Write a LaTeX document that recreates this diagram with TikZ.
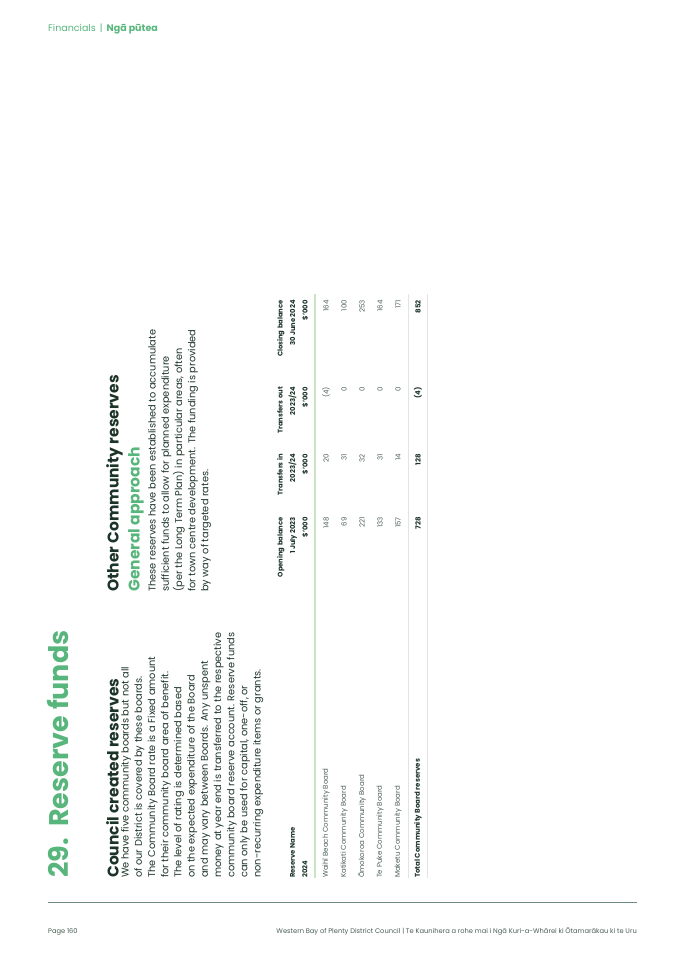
\documentclass[tikz,border=0pt]{standalone}
\usepackage{fontspec}
\setmainfont{Poppins}
\definecolor{tgreen}{RGB}{88,182,124}
\definecolor{dark}{RGB}{28,52,40}
\definecolor{lgreen}{RGB}{200,230,195}
\definecolor{lgray}{RGB}{225,228,226}
\definecolor{fgray}{RGB}{110,140,125}
\tikzset{
 rt/.style={rotate=90,inner sep=0pt,text=dark},
 body/.style={rt,align=left,font=\fontsize{9.8}{13.2}\selectfont},
 hdr/.style={rt,align=right,font=\fontsize{6.8}{12.5}\selectfont\bfseries},
 val/.style={rt,anchor=east,font=\fontsize{7}{8}\selectfont,text=dark!80},
 lab/.style={rt,anchor=west,font=\fontsize{7}{8}\selectfont,text=dark!80},
 hd/.style={rt,anchor=north west,font=\fontsize{15.5}{18}\selectfont\bfseries},
}
\begin{document}
\begin{tikzpicture}[x=1pt,y=-1pt]
\useasboundingbox (0,0) rectangle (683,965);
\node[anchor=base west,inner sep=0pt,font=\fontsize{9.5}{11}\selectfont,text=tgreen] (hd) at (48,32) {Financials \,|\, \textbf{Ngā pūtea}};
\node[rt,anchor=north west,font=\fontsize{27}{30}\selectfont\bfseries,text=tgreen] (title) at (47,878) {29.\ \ Reserve funds};
\node[hd] (h1) at (106,878) {Council created reserves};
\node[body,anchor=north west] (p1) at (121,878) {We have five community boards but not all\\of our District is covered by these boards.\\The Community Board rate is a Fixed amount\\for their community board area of benefit.\\The level of rating is determined based\\on the expected expenditure of the Board\\and may vary between Boards. Any unspent\\money at year end is transferred to the respective\\community board reserve account. Reserve funds\\can only be used for capital, one-off, or\\non-recurring expenditure items or grants.};
\node[hd] (h2) at (106,592) {Other Community reserves};
\node[hd,text=tgreen] (h3) at (128,592) {General approach};
\node[body,anchor=north west] (p2) at (148,592) {These reserves have been established to accumulate\\sufficient funds to allow for planned expenditure\\(per the Long Term Plan) in particular areas, often\\for town centre development. The funding is provided\\by way of targeted rates.};
% table header
\node[hdr,anchor=north west,align=left] (c0) at (290,878) {Reserve Name\\2024};
\node[hdr,anchor=north east] (c1) at (277,517) {Opening balance\\1 July 2023\\\$'000};
\node[hdr,anchor=north east] (c2) at (277,454) {Transfers in\\2023/24\\\$'000};
\node[hdr,anchor=north east] (c3) at (277,387) {Transfers out\\2023/24\\\$'000};
\node[hdr,anchor=north east] (c4) at (277,300) {Closing balance\\30 June 2024\\\$'000};
\coordinate (gtop) at (315,294); \coordinate (gbot) at (315,878);
\draw[lgreen,line width=1.2pt] (gtop) -- (gbot);
\coordinate (atop) at (408,294); \coordinate (abot) at (408,878);
\draw[lgray,line width=0.7pt] (atop) -- (abot);
\coordinate (btop) at (427,294); \coordinate (bbot) at (427,878);
\draw[lgray,line width=1pt] (btop) -- (bbot);
% rows
\foreach \x/\n/\a/\b/\c/\d in {326/Waihī Beach Community Board/148/20/(4)/164,
 344/Katikati Community Board/69/31/0/100,
 362/Ōmokoroa Community Board/221/32/0/253,
 380/Te Puke Community Board/133/31/0/164,
 398/Maketu Community Board/157/14/0/171}{
 \node[lab] (l\x) at (\x,878) {\n};
 \node[val] (a\x) at (\x,517) {\a};
 \node[val] (b\x) at (\x,454) {\b};
 \node[val] (c\x) at (\x,387) {\c};
 \node[val] (d\x) at (\x,300) {\d};
}
\tikzset{tot/.style={font=\fontsize{7}{8}\selectfont\bfseries,text=dark}}
\node[lab,tot] (tl) at (418,878) {Total Community Board reserves};
\node[val,tot] (ta) at (418,517) {728};
\node[val,tot] (tb) at (418,454) {128};
\node[val,tot] (tc) at (418,387) {(4)};
\node[val,tot] (td) at (418,300) {852};
% footer
\coordinate (fl) at (48,902); \coordinate (fr) at (637,902);
\draw[fgray,line width=0.8pt] (fl) -- (fr);
\node[anchor=base west,inner sep=0pt,font=\fontsize{6.7}{8}\selectfont,text=dark!80] (pg) at (48,933) {Page 160};
\node[anchor=base east,inner sep=0pt,font=\fontsize{6.7}{8}\selectfont,text=dark!80] (ft) at (637,933) {Western Bay of Plenty District Council | Te Kaunihera a rohe mai i Ngā Kuri-a-Whārei ki Ōtamarākau ki te Uru};
\end{tikzpicture}
\end{document}
